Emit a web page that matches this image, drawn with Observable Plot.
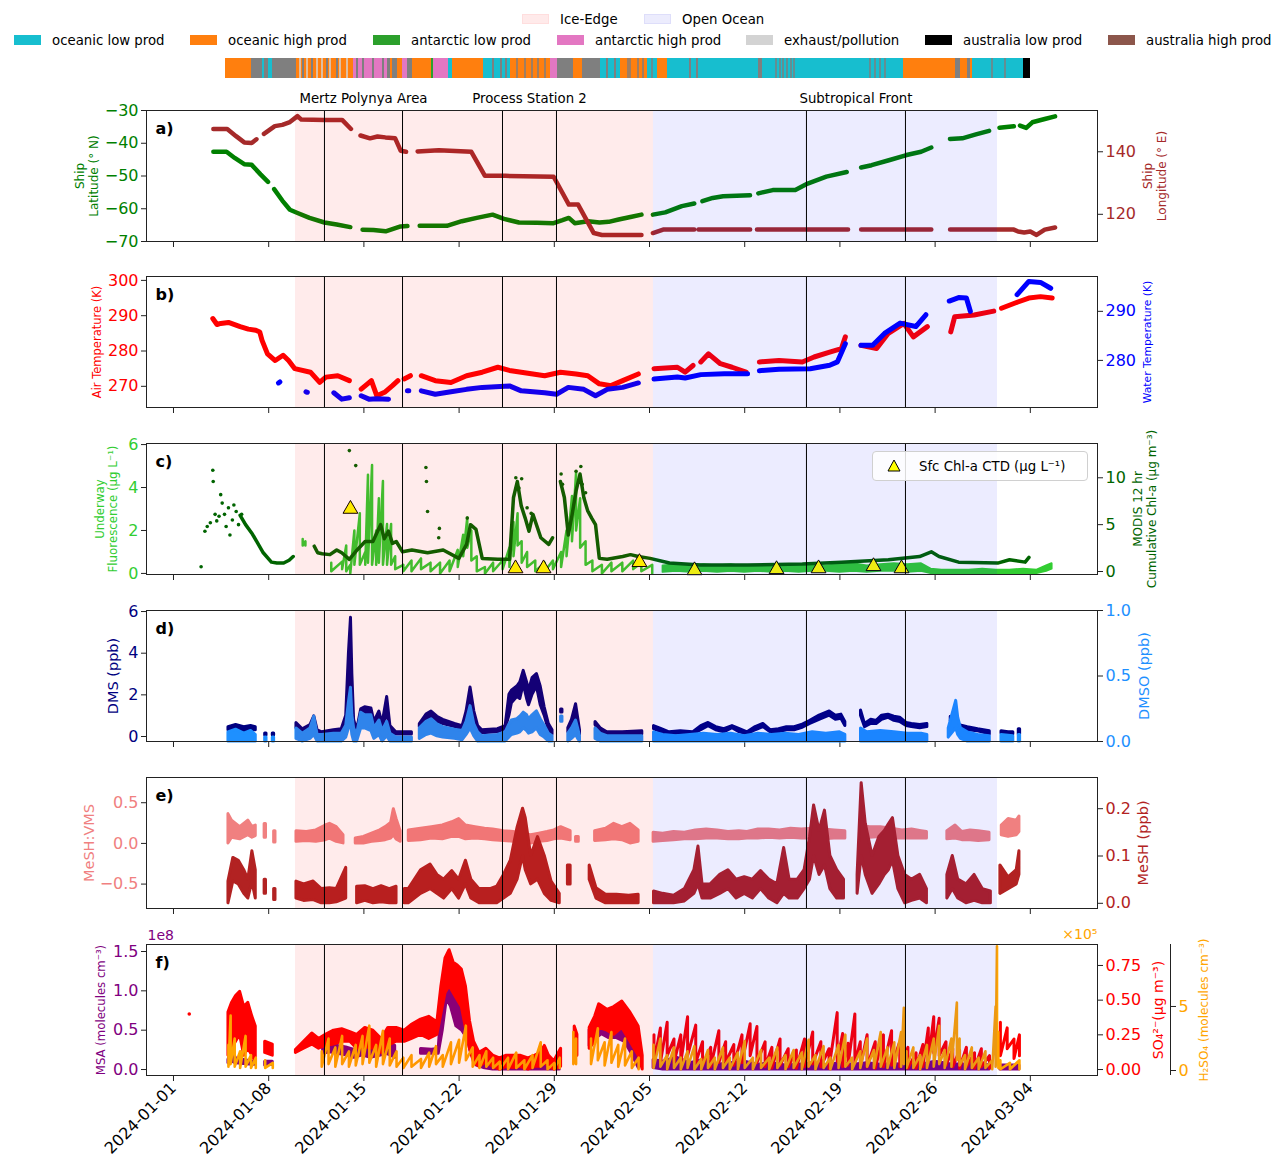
<!DOCTYPE html>
<html><head><meta charset="utf-8">
<script src="https://cdn.jsdelivr.net/npm/d3@7"></script>
<script src="https://cdn.jsdelivr.net/npm/@observablehq/plot@0.6"></script>
<style>
body{margin:0;background:#fff;font-family:"DejaVu Sans",sans-serif;}
#wrap{position:relative;width:1285px;height:1175px;overflow:hidden;background:#fff}
.lg{position:absolute;font-size:13.3px;white-space:nowrap;display:flex;align-items:center;height:16px;color:#000}
.lg i{display:inline-block;width:27px;height:9.5px;margin-right:11px;box-sizing:border-box}
#chlleg{position:absolute;left:872px;top:451px;width:216px;height:30px;border:1px solid #d0d0d0;border-radius:4px;background:rgba(255,255,255,0.85);font-size:13.3px;display:flex;align-items:center;box-sizing:border-box}
</style></head><body><div id="wrap"></div>
<script>
// ---------------- DATA ----------------
const legendRegions = [["Ice-Edge","rgb(255,234,234)"],["Open Ocean","rgb(236,236,253)"]];
const airMassNames = ["oceanic low prod","oceanic high prod","antarctic low prod","antarctic high prod","exhaust/pollution","australia low prod","australia high prod","unclassified"];
const airMassColors = ["#17becf","#ff7f0e","#2ca02c","#e377c2","#d3d3d3","#000000","#8c564b","#7f7f7f"];
// strip: category index + segment end (sample units, total 805)
const stripCat = [1,7,0,7,0,7,1,3,7,1,7,1,3,7,1,2,3,0,1,0,1,3,7,1,7,0,1,0,1,0,7,0,1,7,1,7,1,0,5];
const stripEnd = [26,37,39,43,47,71,128,162,165,167,172,177,182,187,206,208,223,227,258,285,325,332,348,357,375,395,422,432,442,533,537,678,730,735,742,745,747,798,805];
const stripeCat = [4,4,4,4,4,4,4,7,7,7,7,7,7,7,7,7,7,7,7,7,7,7,7,7,7,7,7,7,7,7,7,7,7,7,7,7,7,7,7,7,7,7,7,7];
const stripeAt  = [75,82,92,97,105,115,122,78,87,102,112,132,138,148,158,268,276,281,292,300,307,313,320,382,390,403,405,413,418,427,465,472,551,555,558,562,566,569,645,650,655,660,767,780];
const stripeW   = [1.5,1.5,1.5,1.5,1.5,1.5,1.5,2,2,2,2,2,2,2,2,2,2,2,1.5,1.5,1.5,1.5,1.5,2,2,1.5,1.5,1.5,1.5,1.5,2,2,1.5,1.5,1.5,1.5,1.5,1.5,1.5,1.5,1.5,1.5,1.5,1.5];

const xTickLabels = ["2024-01-01","2024-01-08","2024-01-15","2024-01-22","2024-01-29","2024-02-05","2024-02-12","2024-02-19","2024-02-26","2024-03-04"];
// days since 2024-01-01
const regionStart = [8.97, 35.29], regionEnd = [35.29, 60.59], regionName = ["Ice-Edge","Open Ocean"];
const eventDays = [11.10, 16.84, 24.19, 28.16, 46.54, 53.82];
const eventNames = ["Mertz Polynya Area","Process Station 2","Subtropical Front"];
const eventFrom = [11.10, 24.19, 46.54], eventTo = [16.84, 28.16, 53.82];

const shipLat = [[2.93,-42.6],[3.9,-42.6],[4.5,-44.5],[5.2,-46.4],[5.75,-46.6],[6.4,-49.5],[6.95,-51.8],[7.05,null],[7.4,-54.0],[8.0,-57.5],[8.56,-60.3],[9.12,-61.3],[10.0,-62.8],[11.1,-64.2],[12.0,-64.8],[13.0,-65.6],[13.1,null],[13.9,-66.4],[14.7,-66.5],[15.6,-66.9],[16.7,-65.4],[17.2,-65.3],[17.5,null],[18.1,-65.2],[19.0,-65.2],[20.1,-65.2],[21.2,-63.8],[22.3,-62.8],[23.46,-61.8],[24.3,-63.1],[25.4,-64.2],[26.7,-64.3],[27.95,-64.4],[28.6,-63.5],[29.07,-62.8],[29.5,-64.4],[30.48,-63.8],[31.32,-64.2],[32.0,-64.0],[32.73,-63.3],[33.6,-62.5],[34.41,-61.8],[34.6,null],[35.25,-61.8],[36.16,-61.1],[37.38,-59.2],[38.29,-58.4],[38.5,null],[38.89,-57.7],[39.65,-56.7],[40.41,-56.2],[42.39,-55.9],[42.6,null],[43.0,-55.3],[44.06,-54.3],[45.72,-54.3],[46.63,-52.3],[48.0,-50.2],[49.5,-48.8],[49.7,null],[50.56,-47.4],[51.33,-46.7],[52.6,-45.2],[53.9,-43.6],[54.97,-42.6],[55.72,-41.3],[55.9,null],[57.09,-38.7],[58.0,-38.5],[59.0,-37.3],[59.97,-36.2],[60.2,null],[60.73,-35.3],[61.79,-34.8],[62.0,null],[62.24,-34.6],[62.7,-35.3],[63.15,-33.6],[64.06,-32.6],[64.82,-31.8]];
const shipLon = [[2.93,147.3],[3.95,147.3],[4.6,145.0],[5.2,143.0],[5.75,142.8],[6.1,144.0],[6.3,null],[6.65,145.7],[7.45,148.2],[8.0,148.6],[8.56,149.5],[9.12,151.4],[9.4,150.3],[11.1,150.2],[12.4,150.2],[13.05,147.3],[13.2,null],[13.75,145.2],[14.45,144.3],[15.0,144.9],[15.58,144.6],[16.3,144.3],[16.71,140.3],[17.1,140.0],[17.3,null],[17.95,140.1],[19.5,140.5],[21.9,140.0],[22.9,132.3],[24.4,132.3],[27.95,132.0],[29.07,123.1],[29.75,123.1],[30.9,114.0],[31.5,113.4],[34.41,113.4],[34.6,null],[35.25,114.0],[36.0,115.1],[38.29,115.1],[38.45,null],[38.6,115.1],[42.4,115.1],[42.6,null],[42.9,115.1],[49.6,115.1],[49.8,null],[50.56,115.1],[55.72,115.1],[55.9,null],[57.1,115.1],[61.79,115.1],[62.1,114.5],[62.55,114.2],[63.0,114.5],[63.46,113.4],[64.06,115.1],[64.82,115.8]];

const airTemp = [[2.89,289.2],[3.2,287.5],[3.47,287.8],[4.04,288.1],[4.9,286.9],[5.5,286.2],[6.05,285.9],[6.34,285.4],[6.51,283.0],[6.91,279.2],[7.48,277.3],[8.06,278.8],[8.46,277.3],[8.92,275.0],[10.07,274.0],[10.75,271.1],[11.2,272.6],[12.08,273.0],[12.93,271.6],[13.2,null],[13.8,269.2],[14.2,270.5],[14.55,271.6],[14.95,267.3],[15.52,268.3],[16.1,270.2],[16.5,271.6],[16.7,null],[16.96,272.1],[17.42,273.0],[17.7,null],[18.22,273.0],[19.25,271.6],[20.4,271.1],[21.55,273.0],[22.7,274.0],[23.85,275.4],[24.7,274.5],[25.57,274.0],[27.29,273.0],[28.45,274.0],[29.6,273.5],[30.46,273.0],[31.31,270.7],[32.17,270.2],[33.03,271.6],[34.18,273.5],[34.5,null],[35.33,275.0],[37.05,275.4],[37.62,274.0],[38.2,275.9],[38.4,null],[38.77,276.9],[39.34,279.2],[40.21,276.4],[41.07,275.4],[42.1,274.0],[42.5,null],[43.08,276.9],[44.52,277.3],[46.24,276.9],[47.1,278.3],[48.25,279.7],[49.11,280.7],[49.4,284.0],[49.6,null],[50.55,281.6],[51.7,280.7],[52.56,285.0],[53.71,287.8],[54.4,284.0],[55.43,286.9],[55.8,null],[57.15,285.4],[57.44,289.7],[58.87,290.2],[60.31,291.3],[60.5,null],[60.88,292.1],[62.03,293.8],[62.89,295.0],[63.75,295.4],[64.61,295.0]];
const waterTemp = [[7.72,275.4],[7.82,275.6],[7.9,null],[9.74,273.6],[9.84,273.5],[9.9,null],[11.79,273.4],[12.37,272.1],[12.93,272.4],[13.2,null],[13.8,272.8],[14.37,272.1],[14.95,272.2],[15.81,272.1],[16.0,null],[17.2,273.8],[17.3,273.8],[17.4,null],[18.22,273.8],[19.25,273.1],[20.4,273.6],[21.55,274.1],[22.7,274.5],[24.7,274.8],[25.57,273.8],[27.29,273.4],[28.16,273.1],[29.03,274.5],[30.17,274.1],[31.03,272.8],[31.89,274.1],[33.03,274.5],[34.18,275.4],[34.5,null],[35.33,276.2],[37.05,276.6],[37.62,276.4],[38.77,277.1],[40.5,277.3],[42.21,277.3],[42.5,null],[43.08,277.9],[44.52,278.2],[46.82,278.3],[48.25,279.0],[48.82,279.7],[49.4,283.4],[49.6,null],[50.55,283.1],[51.41,283.1],[52.28,285.5],[53.43,287.6],[54.58,286.9],[55.32,289.3],[55.6,null],[57.04,292.1],[57.73,292.8],[58.3,292.7],[58.59,290.0],[58.8,null],[62.03,293.4],[62.89,296.1],[63.75,295.9],[64.5,294.7]];

const fluor = [[9.5,1.3,1.6],[9.7,1.3,1.5],[9.8,null,null],[11.6,0.1,0.5],[12.4,0.2,0.55],[12.7,0.1,1.3],[13.0,0.0,0.4],[13.3,0.4,2.0],[13.7,0.4,2.8],[14.1,0.4,1.0],[14.3,0.5,4.6],[14.6,0.4,5.05],[14.9,0.4,2.0],[15.1,0.5,3.5],[15.4,0.4,4.3],[15.7,0.4,2.3],[16.0,0.4,2.3],[16.3,0.2,0.8],[16.9,0.1,0.4],[17.5,0.1,0.6],[18.2,0.2,0.7],[18.9,0.1,0.5],[19.6,0.0,0.5],[20.3,0.1,0.6],[20.9,0.3,1.1],[21.3,0.8,1.8],[21.6,1.2,2.6],[21.9,0.6,2.0],[22.3,0.1,0.8],[22.9,0.0,0.3],[23.5,0.1,0.5],[24.2,0.2,0.6],[24.7,0.3,1.2],[25.0,0.8,2.4],[25.3,1.3,2.8],[25.6,0.5,1.5],[26.0,0.3,1.0],[26.6,0.1,0.6],[27.3,0.1,0.5],[27.9,0.2,0.6],[28.5,0.3,1.0],[28.9,0.8,2.0],[29.3,1.5,3.6],[29.6,2.0,4.7],[29.9,1.2,3.5],[30.3,0.4,1.5],[30.8,0.1,0.6],[31.5,0.0,0.4],[32.2,0.1,0.5],[33.0,0.1,0.5],[33.8,0.2,0.6],[34.4,0.1,0.5],[35.2,0.0,0.4],[36.0,0.05,0.35],[37,0.1,0.4],[38,0.05,0.35],[39,0.1,0.4],[40,0.05,0.35],[41,0.1,0.4],[42,0.05,0.3],[43,0.1,0.35],[44,0.05,0.35],[45,0.1,0.4],[46,0.05,0.35],[47,0.1,0.4],[48,0.1,0.35],[49,0.05,0.4],[50,0.1,0.45],[51,0.05,0.35],[52,0.1,0.4],[53,0.1,0.45],[54,0.05,0.4],[55,0.1,0.45],[55.7,0.0,0.2],[56.5,0.0,0.15],[57.5,0.0,0.15],[58.5,0.0,0.15],[59.5,0.0,0.2],[60.5,0.0,0.15],[61.5,0.0,0.15],[62.5,0.0,0.2],[63.5,0.0,0.15],[64.2,0.1,0.35],[64.6,0.2,0.45]];
const modisLine = [[4.9,6.0],[5.3,5.0],[5.8,4.0],[6.2,3.0],[6.6,2.0],[7.2,1.0],[7.6,0.9],[8.1,0.9],[8.5,1.2],[8.8,1.6],[8.95,null],[10.35,2.7],[10.6,2.0],[10.93,1.9],[11.5,1.8],[12.0,2.3],[12.37,2.0],[12.93,1.3],[13.5,2.3],[14.09,3.2],[14.66,3.2],[15.23,5.0],[15.5,3.5],[15.81,4.3],[16.1,3.0],[16.38,3.2],[16.84,2.1],[17.53,2.3],[18.68,2.0],[19.83,2.3],[20.98,1.4],[21.55,2.9],[21.84,5.0],[22.24,4.5],[22.7,1.4],[23.85,1.3],[24.71,1.3],[25.0,7.9],[25.28,9.6],[25.57,7.0],[25.86,5.7],[26.14,4.3],[26.43,6.1],[27.01,3.6],[27.59,2.9],[27.87,3.6],[28.2,null],[28.45,9.6],[28.74,7.9],[29.03,3.9],[29.3,6.0],[29.6,8.6],[29.89,10.4],[30.17,7.9],[30.45,6.5],[30.75,5.7],[31.03,5.0],[31.31,1.4],[31.89,1.3],[33.03,1.6],[33.6,1.8],[34.18,1.6],[35.04,1.4],[36.47,0.9],[38.77,0.7],[42.21,0.7],[46.24,0.8],[49.11,1.0],[52.56,1.25],[54.86,1.6],[55.72,2.1],[56.29,1.6],[57.73,1.0],[60.6,0.9],[61.47,1.25],[62.62,1.0],[62.9,1.5]];
const modisDots = [[2.03,0.5],[2.31,4.3],[2.48,4.8],[2.71,5.2],[2.89,10.8],[2.92,9.6],[3.06,6.1],[3.18,5.4],[3.35,5.9],[3.47,8.2],[3.58,7.3],[3.75,6.1],[3.87,4.8],[4.04,6.8],[4.15,3.9],[4.33,5.5],[4.44,7.1],[4.61,6.4],[4.78,5.0],[5.01,6.1],[12.93,12.9],[13.4,11.3],[18.56,11.1],[18.6,9.6],[18.68,6.4],[19.5,3.6],[19.55,4.6],[25.17,10.0],[25.4,8.9],[25.6,9.9],[26.0,6.8],[26.3,6.2],[28.5,10.4],[28.6,9.3],[29.6,10.7],[29.95,11.2],[30.05,9.3],[30.3,8.4],[21.6,5.7]];
const ctdChl = [[13.01,3.0],[25.15,0.23],[27.21,0.23],[34.26,0.52],[38.31,0.14],[44.34,0.19],[47.43,0.23],[51.47,0.33],[53.53,0.23]];

const dms = [[4.04,0.3,0.45],[4.6,0.3,0.55],[5.2,0.25,0.45],[5.7,0.3,0.5],[6.05,0.3,0.45],[6.2,null,null],[6.74,0.05,0.15],[6.84,0.05,0.15],[6.9,null,null],[7.3,0.05,0.15],[7.4,0.05,0.15],[7.5,null,null],[9.04,0.4,0.65],[9.5,0.2,0.35],[10.07,0.35,0.55],[10.35,0.7,0.97],[10.6,0.1,0.3],[10.93,0.1,0.2],[11.79,0.1,0.3],[12.37,0.2,0.35],[12.7,0.5,1.0],[12.9,1.5,4.0],[13.05,3.0,5.7],[13.15,1.5,3.0],[13.28,0.3,0.8],[13.5,0.1,0.3],[13.8,1.0,1.3],[14.09,1.1,1.4],[14.55,1.0,1.35],[14.77,0.4,0.7],[15.14,0.9,1.2],[15.37,0.3,0.6],[15.71,1.2,1.9],[15.95,0.2,0.5],[16.38,0.1,0.2],[17.53,0.1,0.2],[17.8,null,null],[18.11,0.45,0.6],[18.6,0.8,1.05],[18.97,0.95,1.2],[19.4,0.7,0.95],[19.83,0.6,0.8],[20.69,0.45,0.6],[21.26,0.35,0.5],[21.55,0.9,1.2],[21.84,1.9,2.35],[22.12,0.9,1.2],[22.4,0.3,0.5],[22.7,0.15,0.3],[23.85,0.2,0.35],[24.42,0.35,0.5],[24.7,1.0,2.0],[24.88,1.6,2.2],[25.28,1.9,2.4],[25.5,1.8,2.6],[25.75,2.5,3.15],[26.0,1.8,2.6],[26.14,1.5,2.2],[26.4,2.0,2.8],[26.72,2.4,3.0],[27.0,1.5,2.4],[27.29,1.0,1.4],[27.6,0.3,0.6],[27.87,0.1,0.3],[28.2,null,null],[28.5,1.15,1.3],[28.6,1.15,1.3],[28.7,null,null],[29.03,0.2,0.4],[29.3,0.4,0.8],[29.6,1.2,1.55],[29.75,0.5,0.9],[29.89,0.1,0.3],[30.1,null,null],[31.03,0.55,0.7],[31.4,0.2,0.4],[31.89,0.1,0.2],[33.03,0.1,0.2],[34.47,0.1,0.25],[34.7,null,null],[35.33,0.35,0.5],[35.9,0.2,0.35],[36.47,0.1,0.2],[37.3,0.15,0.25],[38.2,0.1,0.2],[38.8,0.3,0.5],[39.34,0.5,0.65],[39.9,0.3,0.45],[40.5,0.2,0.35],[41.1,0.4,0.5],[41.64,0.2,0.35],[42.21,0.1,0.2],[42.8,0.3,0.45],[43.37,0.45,0.6],[43.9,0.2,0.3],[44.52,0.2,0.35],[45.1,0.3,0.45],[45.67,0.3,0.45],[46.2,0.4,0.55],[46.82,0.6,0.75],[47.5,0.8,1.0],[48.25,1.0,1.2],[48.7,0.8,1.0],[49.11,0.85,1.05],[49.4,0.5,0.7],[49.6,null,null],[50.55,1.0,1.25],[50.84,0.45,0.6],[51.3,0.6,0.8],[51.7,0.6,0.75],[52.1,0.8,1.0],[52.56,0.9,1.05],[53.0,0.75,0.95],[53.43,0.7,0.9],[53.9,0.5,0.65],[54.29,0.45,0.6],[54.9,0.4,0.55],[55.43,0.45,0.6],[55.6,null,null],[57.15,0.75,0.95],[57.4,0.5,0.7],[57.73,0.4,0.55],[58.4,0.3,0.45],[59.16,0.25,0.35],[60.02,0.1,0.25],[60.3,null,null],[60.88,0.15,0.25],[61.4,0.1,0.2],[61.75,0.1,0.2],[62.0,null,null],[62.15,0.1,0.35],[62.25,0.1,0.35],[62.3,null,null]];
const dmso = [[4.04,0.0,0.07],[4.6,0.0,0.09],[5.2,0.0,0.06],[5.7,0.0,0.08],[6.05,0.0,0.05],[6.2,null,null],[6.74,0.0,0.03],[6.84,0.0,0.03],[6.9,null,null],[7.3,0.0,0.03],[7.4,0.0,0.03],[7.5,null,null],[9.04,0.02,0.1],[9.5,0.0,0.06],[10.07,0.02,0.1],[10.35,0.05,0.19],[10.6,0.0,0.05],[10.93,0.0,0.05],[11.79,0.0,0.06],[12.37,0.0,0.06],[12.7,0.03,0.12],[12.9,0.1,0.3],[13.05,0.15,0.41],[13.15,0.05,0.2],[13.28,0.0,0.1],[13.5,0.0,0.05],[13.8,0.1,0.22],[14.09,0.1,0.2],[14.55,0.08,0.2],[14.77,0.02,0.1],[15.14,0.05,0.16],[15.37,0.0,0.08],[15.71,0.04,0.15],[15.95,0.0,0.06],[16.38,0.0,0.03],[17.53,0.0,0.03],[17.8,null,null],[18.11,0.02,0.1],[18.6,0.05,0.15],[18.97,0.06,0.17],[19.4,0.04,0.13],[19.83,0.03,0.11],[20.69,0.02,0.09],[21.26,0.01,0.08],[21.55,0.05,0.15],[21.84,0.1,0.27],[22.12,0.04,0.13],[22.4,0.0,0.07],[22.7,0.0,0.04],[23.85,0.0,0.05],[24.42,0.0,0.07],[24.7,0.03,0.13],[24.88,0.05,0.16],[25.28,0.06,0.17],[25.5,0.07,0.19],[25.75,0.1,0.22],[26.0,0.08,0.2],[26.14,0.06,0.17],[26.4,0.07,0.2],[26.72,0.1,0.23],[27.0,0.05,0.17],[27.29,0.03,0.12],[27.6,0.0,0.06],[27.87,0.0,0.04],[28.2,null,null],[28.5,0.15,0.19],[28.6,0.15,0.19],[28.7,null,null],[29.03,0.0,0.06],[29.3,0.02,0.1],[29.6,0.05,0.16],[29.75,0.02,0.1],[29.89,0.0,0.04],[30.1,null,null],[31.03,0.02,0.1],[31.4,0.0,0.06],[31.89,0.0,0.04],[33.03,0.0,0.04],[34.47,0.0,0.04],[34.7,null,null],[35.33,0.0,0.07],[36.0,0.0,0.05],[37,0.0,0.04],[38,0.0,0.05],[39,0.0,0.06],[40,0.0,0.05],[41,0.0,0.06],[42,0.0,0.04],[43,0.0,0.06],[44,0.0,0.05],[45,0.0,0.06],[46,0.0,0.05],[47,0.0,0.07],[48,0.0,0.06],[49,0.0,0.07],[49.4,0.0,0.05],[49.6,null,null],[50.55,0.0,0.1],[51,0.0,0.07],[52,0.0,0.08],[53,0.0,0.07],[54,0.0,0.06],[55,0.0,0.06],[55.43,0.0,0.05],[55.6,null,null],[57.0,0.03,0.1],[57.55,0.1,0.31],[57.7,0.05,0.18],[57.9,0.02,0.1],[58.4,0.0,0.07],[59.16,0.0,0.05],[60.02,0.0,0.04],[60.3,null,null],[60.88,0.0,0.05],[61.75,0.0,0.04],[62.0,null,null],[62.15,0.0,0.05],[62.25,0.0,0.05],[62.3,null,null]];

const meshVms = [[4.04,0.0,0.36],[4.3,0.07,0.28],[4.9,0.05,0.2],[5.5,0.1,0.28],[5.8,0.07,0.2],[6.05,0.09,0.22],[6.2,null,null],[6.7,0.07,0.24],[6.8,0.07,0.24],[6.9,null,null],[7.4,0.01,0.15],[7.5,0.01,0.15],[7.6,null,null],[9.04,0.02,0.15],[9.8,0.03,0.14],[10.5,0.02,0.16],[11.2,0.04,0.22],[11.5,0.06,0.24],[12.0,0.02,0.2],[12.5,0.0,0.1],[12.9,null,null],[13.4,0.0,0.06],[14.0,0.0,0.08],[14.6,0.02,0.12],[15.2,0.03,0.16],[15.6,0.04,0.2],[16.0,0.06,0.25],[16.2,0.1,0.42],[16.4,0.05,0.3],[16.7,0.02,0.15],[16.9,null,null],[17.3,0.03,0.16],[18.2,0.04,0.18],[19.0,0.06,0.2],[19.8,0.05,0.22],[20.5,0.08,0.26],[21.0,0.08,0.3],[21.5,0.05,0.22],[22.2,0.06,0.2],[22.9,0.05,0.18],[23.5,0.04,0.17],[24.3,0.03,0.15],[25.0,0.02,0.14],[25.6,0.03,0.12],[26.3,0.0,0.1],[26.9,0.02,0.12],[27.5,0.03,0.14],[28.0,0.05,0.16],[28.5,0.06,0.2],[29.2,0.04,0.15],[29.5,null,null],[29.6,0.02,0.08],[29.8,0.02,0.08],[29.9,null,null],[31.0,0.03,0.15],[31.8,0.04,0.18],[32.4,0.05,0.24],[33.0,0.04,0.2],[33.6,0.0,0.24],[34.2,0.02,0.16],[34.5,null,null],[35.3,0.02,0.13],[36.0,0.03,0.12],[36.8,0.04,0.14],[37.6,0.05,0.13],[38.4,0.05,0.16],[39.2,0.06,0.17],[40.0,0.06,0.16],[40.8,0.05,0.14],[41.6,0.05,0.15],[42.2,0.06,0.14],[43.0,0.06,0.17],[43.8,0.07,0.17],[44.6,0.06,0.16],[45.4,0.07,0.18],[46.2,0.06,0.17],[47.0,0.06,0.18],[47.8,0.05,0.17],[48.6,0.06,0.16],[49.4,0.06,0.15],[49.6,null,null],[50.5,0.08,0.22],[51.2,0.07,0.2],[52.0,0.08,0.2],[52.8,0.06,0.18],[53.6,0.06,0.16],[54.3,0.06,0.17],[55.0,0.06,0.15],[55.4,0.06,0.14],[55.6,null,null],[56.9,0.05,0.15],[57.5,0.06,0.22],[58.0,0.04,0.14],[58.6,0.04,0.16],[59.2,0.03,0.15],[60.0,0.04,0.13],[60.3,null,null],[60.9,0.1,0.22],[61.4,0.08,0.3],[62.0,0.1,0.28],[62.2,0.14,0.33]];
const mesh = [[4.04,0.0,0.046],[4.4,0.046,0.096],[4.8,0.04,0.09],[5.2,0.02,0.07],[5.5,0.01,0.05],[5.8,0.045,0.11],[6.05,0.01,0.07],[6.2,null,null],[6.7,0.02,0.05],[6.8,0.02,0.05],[6.9,null,null],[7.4,0.007,0.03],[7.5,0.007,0.03],[7.6,null,null],[9.04,0.01,0.046],[9.6,0.005,0.04],[10.3,0.007,0.046],[10.9,0.0,0.03],[11.5,0.0,0.032],[12.0,0.002,0.03],[12.7,0.01,0.075],[12.9,null,null],[13.5,0.0,0.035],[14.1,0.005,0.036],[14.7,0.0,0.03],[15.3,0.002,0.036],[15.9,0.0,0.03],[16.4,0.0,0.035],[16.7,null,null],[17.0,0.0,0.03],[17.3,0.0,0.03],[18.2,0.02,0.07],[18.9,0.03,0.082],[19.4,0.02,0.06],[19.9,0.01,0.05],[20.5,0.03,0.068],[21.0,0.01,0.05],[21.5,0.04,0.09],[21.9,0.01,0.05],[22.5,0.0,0.03],[23.3,0.0,0.03],[23.8,0.0,0.035],[24.3,0.01,0.06],[24.8,0.02,0.09],[25.3,0.05,0.16],[25.7,0.1,0.2],[25.9,0.07,0.18],[26.3,0.04,0.1],[26.8,0.05,0.14],[27.3,0.02,0.1],[27.8,0.005,0.046],[28.4,0.0,0.02],[28.8,null,null],[29.0,0.04,0.08],[29.2,0.04,0.08],[29.3,null,null],[30.6,0.05,0.08],[31.1,0.01,0.032],[31.8,0.0,0.018],[32.6,0.0,0.018],[33.5,0.0,0.016],[34.2,0.0,0.018],[34.5,null,null],[35.33,0.0,0.025],[36.0,0.0,0.02],[36.8,0.0,0.016],[37.6,0.004,0.03],[38.3,0.02,0.07],[38.6,0.04,0.12],[38.9,0.01,0.04],[39.5,0.01,0.04],[40.2,0.02,0.06],[40.8,0.03,0.07],[41.4,0.01,0.05],[42.0,0.02,0.055],[42.6,0.01,0.05],[43.2,0.03,0.068],[43.8,0.01,0.05],[44.4,0.0,0.04],[44.9,0.02,0.117],[45.3,0.01,0.05],[45.9,0.01,0.05],[46.4,0.03,0.07],[46.8,0.05,0.139],[47.1,0.1,0.207],[47.5,0.06,0.153],[47.9,0.08,0.196],[48.3,0.03,0.1],[48.8,0.01,0.07],[49.3,0.01,0.05],[49.6,null,null],[50.3,0.02,0.06],[50.6,0.1,0.254],[50.9,0.06,0.168],[51.4,0.02,0.1],[51.9,0.04,0.14],[52.3,0.06,0.153],[52.6,0.07,0.167],[52.9,0.09,0.18],[53.3,0.03,0.1],[53.8,0.0,0.06],[54.3,0.005,0.05],[54.9,0.01,0.06],[55.4,0.0,0.03],[55.6,null,null],[56.9,0.01,0.06],[57.3,0.03,0.1],[57.7,0.01,0.05],[58.3,0.0,0.04],[58.9,0.005,0.06],[59.5,0.0,0.03],[60.1,0.0,0.025],[60.3,null,null],[60.8,0.02,0.08],[61.4,0.03,0.055],[62.0,0.04,0.07],[62.2,0.06,0.11]];

const so4 = [[4.04,0.1,0.41],[4.3,0.15,0.48],[4.6,0.2,0.53],[4.9,0.25,0.56],[5.2,0.1,0.45],[5.5,0.15,0.48],[5.8,0.1,0.38],[6.05,0.05,0.31],[6.2,null,null],[6.74,0.12,0.2],[7.3,0.1,0.18],[7.5,null,null],[9.0,0.12,0.14],[9.6,0.15,0.2],[10.2,0.18,0.26],[10.7,0.15,0.22],[11.2,0.17,0.25],[11.8,0.18,0.28],[12.4,0.2,0.29],[13.0,0.2,0.27],[13.5,0.15,0.25],[14.1,0.16,0.3],[14.7,0.15,0.28],[15.3,0.12,0.22],[15.8,0.17,0.3],[16.4,0.2,0.3],[17.0,0.2,0.28],[17.5,0.22,0.32],[18.2,0.25,0.36],[18.8,0.22,0.38],[19.4,0.25,0.34],[19.7,0.4,0.6],[20.0,0.55,0.8],[20.3,0.6,0.86],[20.6,0.55,0.77],[20.9,0.5,0.75],[21.2,0.45,0.72],[21.5,0.3,0.6],[21.8,0.15,0.35],[22.1,0.05,0.2],[22.5,0.02,0.12],[23.0,0.05,0.15],[23.5,0.02,0.1],[24.0,0.0,0.08],[24.5,0.02,0.1],[25.0,0.01,0.1],[25.5,0.02,0.1],[26.1,0.0,0.08],[26.6,0.02,0.1],[27.0,0.02,0.12],[27.3,0.05,0.17],[27.6,0.02,0.1],[28.0,0.0,0.06],[28.5,0.02,0.15],[28.8,null,null],[29.5,0.1,0.31],[29.7,0.1,0.25],[29.8,null,null],[30.6,0.15,0.3],[31.0,0.2,0.38],[31.3,0.3,0.47],[31.9,0.28,0.43],[32.4,0.25,0.45],[33.0,0.3,0.49],[33.6,0.2,0.41],[34.2,0.1,0.31],[34.5,0.0,0.1],[34.7,null,null],[35.33,0.05,0.25],[35.8,0.05,0.3],[36.3,0.1,0.34],[36.8,0.05,0.22],[37.3,0.05,0.25],[37.8,0.1,0.38],[38.4,0.05,0.32],[38.9,0.03,0.2],[39.5,0.02,0.16],[40.1,0.05,0.28],[40.6,0.05,0.2],[41.2,0.03,0.18],[41.8,0.05,0.25],[42.4,0.1,0.33],[42.9,0.05,0.31],[43.5,0.02,0.2],[44.0,0.01,0.16],[44.6,0.03,0.22],[45.2,0.02,0.15],[45.8,0.01,0.14],[46.4,0.02,0.22],[47.0,0.04,0.27],[47.6,0.02,0.2],[48.2,0.01,0.15],[48.8,0.06,0.41],[49.2,0.02,0.26],[49.6,0.03,0.19],[50.1,0.05,0.4],[50.5,0.02,0.2],[51.0,0.02,0.25],[51.6,0.01,0.2],[52.2,0.02,0.25],[52.8,0.03,0.28],[53.4,0.02,0.2],[54.0,0.01,0.16],[54.6,0.01,0.12],[55.1,0.02,0.18],[55.5,0.05,0.3],[55.9,0.12,0.38],[56.3,0.1,0.37],[56.8,0.03,0.2],[57.3,0.02,0.15],[57.8,0.01,0.14],[58.3,0.02,0.16],[58.9,0.01,0.12],[59.4,0.02,0.15],[60.0,0.01,0.1],[60.3,null,null],[60.8,0.1,0.34],[61.3,0.15,0.3],[61.8,0.08,0.22],[62.2,0.1,0.25]];
const so4Dots = [[1.16,0.40]];
const msa = [[4.04,0.08,0.12],[4.3,0.1,0.26],[4.6,0.08,0.14],[5.2,0.07,0.12],[5.8,0.06,0.1],[6.05,0.06,0.1],[6.2,null,null],[6.74,0.05,0.1],[7.3,0.06,0.1],[7.5,null,null],[11.0,0.2,0.3],[11.5,0.22,0.35],[12.1,0.2,0.3],[12.7,0.18,0.28],[13.3,0.15,0.25],[13.9,0.18,0.3],[14.5,0.15,0.32],[15.1,0.17,0.3],[15.7,0.2,0.35],[16.3,0.15,0.3],[16.8,null,null],[18.2,0.2,0.26],[19.0,0.2,0.25],[19.5,0.2,0.26],[19.8,0.5,1.0],[20.1,0.9,1.28],[20.4,0.8,1.2],[20.8,0.55,1.0],[21.2,0.5,0.9],[21.6,0.4,0.7],[21.9,0.2,0.4],[22.3,0.05,0.2],[22.8,0.02,0.1],[23.5,0.0,0.06],[24.5,0.0,0.08],[25.5,0.0,0.08],[26.5,0.0,0.06],[27.5,0.0,0.07],[28.4,0.0,0.06],[28.8,null,null],[30.6,0.3,0.5],[31.0,0.38,0.6],[31.5,0.45,0.7],[32.0,0.4,0.6],[32.6,0.4,0.55],[33.2,0.35,0.5],[33.7,0.2,0.35],[34.2,0.02,0.1],[34.5,null,null],[35.3,0.02,0.12],[36,0.0,0.1],[37,0.0,0.15],[38,0.0,0.08],[39,0.0,0.12],[40,0.0,0.06],[41,0.0,0.08],[42,0.0,0.1],[43,0.0,0.06],[44,0.0,0.08],[45,0.0,0.05],[46,0.0,0.06],[47,0.0,0.08],[48,0.0,0.05],[49,0.0,0.08],[50,0.0,0.06],[51,0.0,0.08],[52,0.0,0.06],[53,0.0,0.07],[54,0.0,0.05],[55,0.0,0.06],[56,0.0,0.1],[57,0.0,0.07],[58,0.0,0.06],[59,0.0,0.08],[60,0.0,0.05],[60.3,null,null],[60.8,0.0,0.05],[62.2,0.0,0.05]];
const h2so4 = [[4.04,0.3,2.0],[4.2,0.5,4.3],[4.5,0.3,2.5],[4.9,0.2,1.5],[5.3,0.3,2.7],[5.7,0.2,1.2],[6.05,0.2,1.0],[6.2,null,null],[6.74,0.2,0.8],[7.3,0.2,0.6],[7.5,null,null],[10.9,0.3,1.5],[11.4,0.5,2.5],[11.9,0.3,1.8],[12.4,0.5,2.7],[12.9,0.3,1.5],[13.4,0.4,2.0],[13.9,0.5,2.7],[14.4,0.6,3.5],[14.9,0.3,2.0],[15.4,0.5,3.1],[15.9,0.4,2.5],[16.4,0.3,1.5],[16.9,0.2,1.0],[17.5,0.3,1.2],[18.2,0.2,0.9],[18.8,0.3,1.4],[19.3,0.5,1.9],[19.8,0.3,1.2],[20.4,0.5,2.2],[21.0,0.6,2.4],[21.5,0.8,3.5],[22.0,0.3,1.8],[22.5,0.2,1.2],[23.0,0.3,1.5],[23.5,0.2,1.0],[24.0,0.1,0.7],[24.6,0.1,1.0],[25.2,0.2,1.4],[25.8,0.1,0.8],[26.4,0.2,1.2],[27.0,0.3,2.2],[27.5,0.1,0.8],[28.0,0.1,0.6],[28.4,0.2,1.0],[28.8,null,null],[29.4,0.5,3.0],[29.6,0.5,2.5],[29.7,null,null],[30.7,0.5,2.5],[31.2,0.8,3.3],[31.7,0.4,2.2],[32.2,0.6,3.0],[32.7,0.3,2.0],[33.2,0.4,2.5],[33.7,0.2,1.5],[34.2,0.1,1.0],[34.5,null,null],[35.3,0.2,2.0],[35.8,0.3,2.5],[36.3,0.1,1.2],[36.8,0.2,1.8],[37.3,0.1,1.0],[37.8,0.2,1.5],[38.3,0.1,1.9],[38.8,0.1,0.9],[39.3,0.2,1.6],[39.8,0.1,1.0],[40.4,0.2,1.8],[40.9,0.1,1.0],[41.5,0.1,1.4],[42.0,0.2,2.3],[42.6,0.1,1.0],[43.2,0.2,1.6],[43.8,0.1,1.0],[44.4,0.2,1.8],[45.0,0.1,1.2],[45.6,0.2,1.6],[46.2,0.1,1.4],[46.7,0.3,2.4],[47.2,0.1,1.2],[47.8,0.2,1.9],[48.3,0.1,1.0],[48.9,0.2,2.0],[49.4,0.3,2.8],[49.9,0.1,1.0],[50.5,0.2,1.5],[51.0,0.3,2.5],[51.5,0.2,1.6],[52.0,0.3,3.0],[52.5,0.2,1.8],[53.0,0.2,2.2],[53.5,0.3,3.0],[53.7,0.5,4.9],[53.9,0.2,1.5],[54.4,0.2,1.8],[54.9,0.1,1.2],[55.4,0.2,2.0],[55.9,0.3,2.5],[56.3,0.5,3.5],[56.7,0.2,1.6],[57.2,0.3,2.5],[57.6,0.8,5.3],[57.8,0.4,2.5],[58.2,0.1,1.2],[58.7,0.2,1.8],[59.2,0.1,1.0],[59.7,0.2,1.5],[60.2,0.1,0.8],[60.45,0.3,5.0],[60.55,0.5,9.7],[60.65,0.2,3.0],[60.8,0.1,0.8],[61.5,0.1,0.6],[62.2,0.1,0.8]];

// ---------------- SETUP ----------------
const wrap = document.getElementById("wrap");
const D0 = Date.UTC(2024, 0, 1);
const t = d => new Date(D0 + d * 864e5);
const xDomain = [t(-1.985), t(67.94)];
const xTicks = xTickLabels.map(s => new Date(s + "T00:00:00Z"));
const W = 1285, ML = 146, MR = 188, PH = 131, MT = 26, MB = 22;
const FONT = "'DejaVu Sans', sans-serif";
const TICKFS = 16;
const OPEN = regionStart[1];

function addLayer(top, yDomain, marks, extraBottom = 0) {
  const svg = Plot.plot({
    width: W, height: MT + PH + MB + extraBottom,
    marginLeft: ML, marginRight: MR, marginTop: MT, marginBottom: MB + extraBottom,
    x: {type: "utc", domain: xDomain, axis: null},
    y: yDomain ? {domain: yDomain, axis: null} : undefined,
    style: `background:transparent;font-family:${FONT};font-size:13.3px;overflow:visible;`,
    marks
  });
  svg.style.position = "absolute"; svg.style.left = "0px"; svg.style.top = (top - MT) + "px";
  svg.style.maxWidth = "none";
  wrap.appendChild(svg);
}
const lineMark = (data, color, sw) => Plot.lineY(data, {x: d => t(d[0]), y: d => d[1], stroke: color, strokeWidth: sw, strokeLinecap: "round", strokeLinejoin: "round"});
const bandMark = (data, color, sw = 3) => Plot.areaY(data, {x: d => t(d[0]), y1: d => d[1], y2: d => d[2], fill: color, stroke: color, strokeWidth: sw, strokeLinejoin: "round"});
// saw-tooth trace through each reading's upper and lower extent
const sawMark = (data, color, sw) => Plot.lineY(data.flatMap(r => r[1] == null ? [[r[0], null]] : [[r[0], r[2]], [r[0], r[1]]]), {x: d => t(d[0]), y: d => d[1], stroke: color, strokeWidth: sw, strokeLinejoin: "round", strokeLinecap: "round"});
const dotMark = (data, color, r) => Plot.dot(data, {x: d => t(d[0]), y: d => d[1], fill: color, r, stroke: "none"});
const yAxis = (anchor, ticks, fmt, color, dx = 0) => Plot.axisY({anchor, ticks, tickFormat: fmt, fill: color, stroke: "#222", tickSize: 5, tickPadding: 3, label: null, fontSize: TICKFS, dx});
const xAxisTicks = () => Plot.axisX({ticks: xTicks, tickFormat: () => "", tickSize: 6, stroke: "#222", label: null});
const vLabel = (txt, side, dx, color, size) => Plot.text([txt], {text: d => d, frameAnchor: side, dx, rotate: -90, fill: color, fontSize: size, lineHeight: 1.12, textAnchor: "middle", lineAnchor: "middle"});
const before = (data, d0) => data.filter(r => r[0] < d0);
const after = (data, d0) => data.filter(r => r[0] >= d0);

function overlay(top, letter, extra = []) {
  const regions = regionName.map((n, i) => ({n, a: t(regionStart[i]), b: t(regionEnd[i])}));
  addLayer(top, null, [
    Plot.rect(regions, {x1: "a", x2: "b", fill: d => d.n === "Ice-Edge" ? "red" : "blue", fillOpacity: d => d.n === "Ice-Edge" ? 0.08 : 0.075}),
    Plot.ruleX(eventDays.map(t), {stroke: "black", strokeWidth: 1}),
    Plot.frame({stroke: "#222", strokeWidth: 1}),
    Plot.text([letter], {text: d => d, frameAnchor: "top-left", dx: 9, dy: 18, fontWeight: "bold", fontSize: 16, textAnchor: "start", lineAnchor: "middle", fill: "black"}),
    ...extra
  ]);
}

const tops = [110, 276, 443, 610, 777, 944];
const fmt0 = d3.format("d"), fmt1 = d3.format(".1f"), fmt2 = d3.format(".2f");

// a) ship position
addLayer(tops[0], [-70, -30], [lineMark(shipLat, "green", 4.5), yAxis("left", [-70,-60,-50,-40,-30], fmt0, "green"), xAxisTicks(), vLabel("Ship\nLatitude (° N)", "left", -60, "green", 12)]);
addLayer(tops[0], [111.3, 153.2], [lineMark(shipLon, "brown", 4.5), yAxis("right", [120,140], fmt0, "brown"), vLabel("Ship\nLongitude (° E)", "right", 57, "brown", 12)]);
overlay(tops[0], "a)", [
  Plot.text(eventNames.map((n, i) => ({n, x: t((eventFrom[i] + eventTo[i]) / 2)})), {x: "x", text: "n", frameAnchor: "top", dy: -12, lineAnchor: "middle", fontSize: 13.3, fill: "black"})
]);

// b) temperatures
addLayer(tops[1], [264, 301.1], [lineMark(airTemp, "red", 5), yAxis("left", [270,280,290,300], fmt0, "red"), xAxisTicks(), vLabel("Air Temperature (K)", "left", -50, "red", 11.5)]);
addLayer(tops[1], [270.4, 297.1], [lineMark(waterTemp, "blue", 5), yAxis("right", [280,290], fmt0, "blue"), vLabel("Water Temperature (K)", "right", 50, "blue", 10.8)]);
overlay(tops[1], "b)");

// c) chlorophyll
addLayer(tops[2], [-0.05, 6.05], [sawMark(before(fluor, OPEN), "limegreen", 2.5), bandMark(after(fluor, OPEN), "limegreen", 2), yAxis("left", [0,2,4,6], fmt0, "limegreen"), xAxisTicks(), vLabel("Underway\nFluorescence (µg L⁻¹)", "left", -40, "limegreen", 11.8)]);
addLayer(tops[2], [-0.32, 13.66], [lineMark(modisLine, "darkgreen", 3.5), dotMark(modisDots, "darkgreen", 1.8), yAxis("right", [0,5,10], fmt0, "darkgreen"), vLabel("MODIS 12 hr\nCumulative Chl-a (µg m⁻³)", "right", 47, "darkgreen", 12)]);
addLayer(tops[2], [-0.05, 6.05], [Plot.dot(ctdChl, {x: d => t(d[0]), y: d => d[1], symbol: "triangle", r: 5.5, fill: "yellow", stroke: "black", strokeWidth: 1})]);
overlay(tops[2], "c)");

// d) DMS / DMSO
addLayer(tops[3], [-0.24, 6.05], [bandMark(dms, "navy", 3), yAxis("left", [0,2,4,6], fmt0, "navy"), xAxisTicks(), vLabel("DMS (ppb)", "left", -34, "navy", 14.5)]);
addLayer(tops[3], [0, 1.0], [bandMark(dmso, "dodgerblue", 3), yAxis("right", [0,0.5,1.0], fmt1, "dodgerblue"), vLabel("DMSO (ppb)", "right", 46, "dodgerblue", 14.5)]);
overlay(tops[3], "d)");

// e) MeSH
addLayer(tops[4], [-0.80, 0.81], [bandMark(meshVms, "lightcoral", 3), yAxis("left", [-0.5,0,0.5], fmt1, "lightcoral"), xAxisTicks(), vLabel("MeSH:VMS", "left", -58, "lightcoral", 14.5)]);
addLayer(tops[4], [-0.011, 0.266], [bandMark(mesh, "firebrick", 3), yAxis("right", [0,0.1,0.2], fmt1, "firebrick"), vLabel("MeSH (ppb)", "right", 45, "firebrick", 14.5)]);
overlay(tops[4], "e)");

// f) MSA / SO4 / H2SO4
addLayer(tops[5], [-0.076, 1.589], [bandMark(msa, "purple", 3), yAxis("left", [0,0.5,1.0,1.5], fmt1, "purple"), vLabel("MSA (molecules cm⁻³)", "left", -46, "purple", 11.7),
  Plot.text(["1e8"], {text: d => d, frameAnchor: "top-left", dy: -9, dx: 1, textAnchor: "start", lineAnchor: "middle", fill: "purple", fontSize: 14}),
  Plot.axisX({ticks: xTicks, tickFormat: d3.utcFormat("%Y-%m-%d"), tickRotate: -45, tickSize: 6, tickPadding: 4, stroke: "#222", fill: "black", fontSize: TICKFS, label: null})], 90);
addLayer(tops[5], [-0.043, 0.901], [bandMark(before(so4, OPEN), "red", 3), sawMark(after(so4, OPEN), "red", 3), dotMark(so4Dots, "red", 1.8), yAxis("right", [0,0.25,0.5,0.75], fmt2, "red"), vLabel("SO₄²⁻(µg m⁻³)", "right", 60, "red", 14)]);
addLayer(tops[5], [-0.39, 9.84], [sawMark(h2so4, "orange", 2.6), yAxis("right", [0,5], fmt0, "orange", 73), Plot.ruleX([xDomain[1]], {dx: 73, stroke: "#222", strokeWidth: 1}), vLabel("H₂SO₄ (molecules cm⁻³)", "right", 106, "orange", 12),
  Plot.text(["×10⁵"], {text: d => d, frameAnchor: "top-right", dy: -10, textAnchor: "end", lineAnchor: "middle", fill: "orange", fontSize: 14})]);
overlay(tops[5], "f)");

// ---------------- AIR-MASS STRIP ----------------
const segs = stripEnd.map((e, i) => ({a: i ? stripEnd[i - 1] : 0, b: e, c: airMassNames[stripCat[i]]}));
const stripes = stripeAt.map((m, i) => ({a: m - stripeW[i] / 2, b: m + stripeW[i] / 2, c: airMassNames[stripeCat[i]]}));
const strip = Plot.plot({
  width: 805, height: 20, margin: 0,
  x: {domain: [0, 805], axis: null},
  color: {domain: airMassNames, range: airMassColors},
  style: "background:transparent;overflow:visible;",
  marks: [Plot.rect(segs, {x1: "a", x2: "b", fill: "c"}), Plot.rect(stripes, {x1: "a", x2: "b", fill: "c"})]
});
strip.style.position = "absolute"; strip.style.left = "225px"; strip.style.top = "58px";
wrap.appendChild(strip);

// ---------------- LEGENDS ----------------
function legendItem(x, y, color, label, border) {
  const d = document.createElement("div");
  d.className = "lg"; d.style.left = x + "px"; d.style.top = (y - 8) + "px";
  const i = document.createElement("i"); i.style.background = color;
  if (border) i.style.border = "1px solid " + border;
  d.appendChild(i); d.appendChild(document.createTextNode(label));
  wrap.appendChild(d);
}
legendItem(522, 19, legendRegions[0][1], legendRegions[0][0], "rgb(255,222,222)");
legendItem(644, 19, legendRegions[1][1], legendRegions[1][0], "rgb(222,222,250)");
const lgX = [14, 190, 373, 557, 746, 925, 1108];
lgX.forEach((x, i) => legendItem(x, 40, airMassColors[i], airMassNames[i]));

const chl = document.createElement("div");
chl.id = "chlleg";
chl.innerHTML = '<svg width="46" height="20" style="flex:none"><polygon points="21,4 27,15 15,15" fill="yellow" stroke="black" stroke-width="1"/></svg><span>Sfc Chl-a CTD (µg L⁻¹)</span>';
wrap.appendChild(chl);
</script></body></html>
